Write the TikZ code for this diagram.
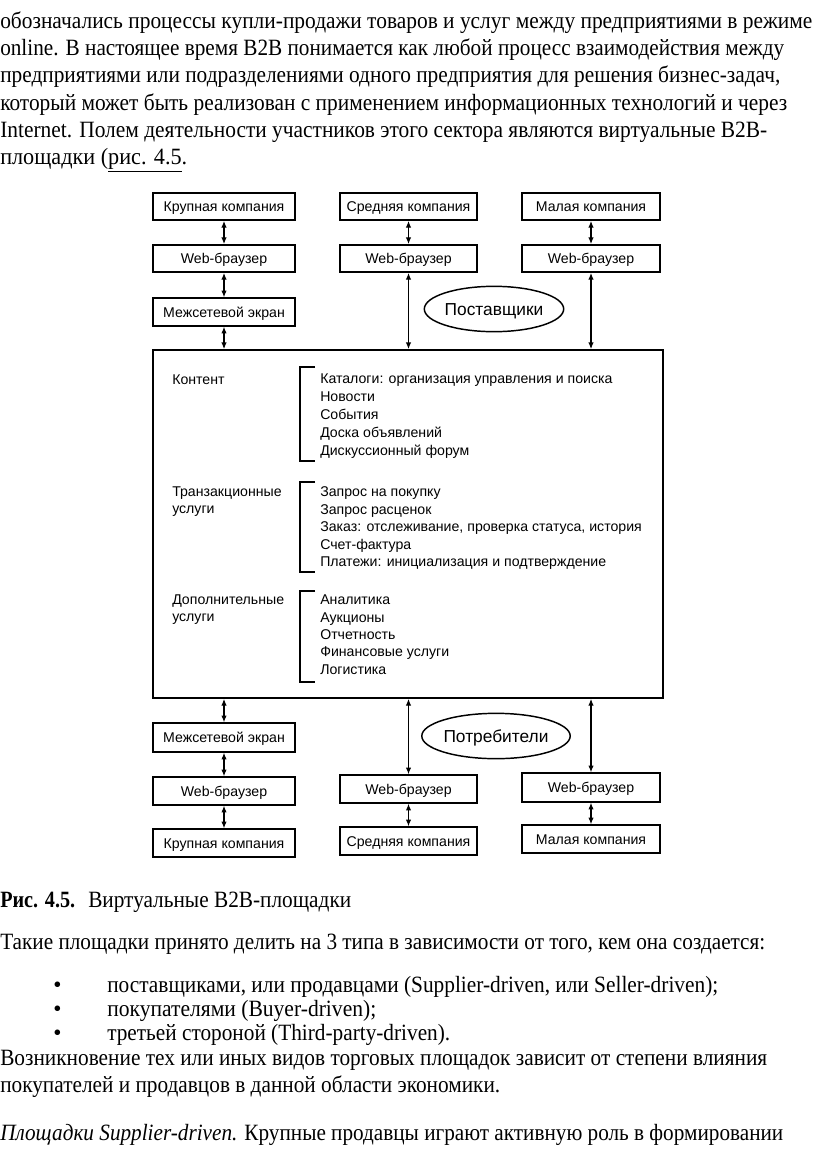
\documentclass[tikz,border=0pt]{standalone}
\usepackage{fontspec}
\setmainfont{Liberation Serif}
\newfontfamily\diagfont{Liberation Sans}
\usetikzlibrary{arrows.meta,shapes.geometric}
\newdimen\pxu \pxu=0.75pt
\newcommand\wline[2]{\resizebox{#1\pxu}{\height}{#2}}
\begin{document}
\begin{tikzpicture}[x=0.75pt,y=-0.75pt,
 box/.style={draw, line width=1.1pt, inner sep=0pt, minimum width=106.5pt, minimum height=20.5pt, text height=7.7pt, text depth=0.2pt, font=\diagfont\fontsize{10.6}{12}\selectfont},
 oval/.style={draw, ellipse, line width=1.1pt, inner sep=0pt, minimum width=96pt, minimum height=34pt, text height=9.4pt, text depth=0.2pt, font=\diagfont\fontsize{13}{15}\selectfont},
 link/.style={line width=0.8pt, {Latex[length=5pt,width=4pt]}-{Latex[length=5pt,width=4pt]}},
 body/.style={anchor=base west, inner sep=0pt, font=\fontsize{17.5}{20}\selectfont},
 dtext/.style={anchor=base west, inner sep=0pt, font=\diagfont\fontsize{10.6}{12}\selectfont},
 brk/.style={line width=1.1pt}
]
\fill[white] (0,0) rectangle (816,1163);
\useasboundingbox (0,0) rectangle (816,1163);

% body text above
\node[body] (p1) at (0,29) {\wline{812}{обозначались процессы купли-продажи товаров и услуг между предприятиями в режиме}};
\node[body] (p2) at (0,56) {\wline{784}{online. В настоящее время B2B понимается как любой процесс взаимодействия между}};
\node[body] (p3) at (0,83) {\wline{780}{предприятиями или подразделениями одного предприятия для решения бизнес-задач,}};
\node[body] (p4) at (0,110) {\wline{787}{который может быть реализован с применением информационных технологий и через}};
\node[body] (p5) at (0,137) {\wline{767}{Internet. Полем деятельности участников этого сектора являются виртуальные B2B-}};
\node[body] (p6) at (0,164) {\wline{187}{площадки (\underline{рис. 4.5}.}};

% top boxes
\node[box] (tk) at (224,206.5) {Крупная компания};
\node[box] (tw) at (224,258.5) {Web-браузер};
\node[box, minimum height=21pt] (tm) at (224,312) {Межсетевой экран};
\node[box, minimum width=102.75pt] (sk) at (408.5,206.5) {Средняя компания};
\node[box, minimum width=102.75pt] (sw) at (408.5,258.5) {Web-браузер};
\node[box, minimum width=103.5pt] (mk) at (591,206.5) {Малая компания};
\node[box, minimum width=103.5pt] (mw) at (591,258.5) {Web-браузер};
\node[oval] (sup) at (494,309) {Поставщики};

% main rectangle
\node[draw, line width=1.3pt, inner sep=0pt, minimum width=382.5pt, minimum height=261pt] (main) at (408,524) {};

% bottom
\node[box, minimum height=21.75pt] (bm) at (224,737.5) {Межсетевой экран};
\node[box, minimum height=21pt] (bw) at (224,791) {Web-браузер};
\node[box, minimum height=21pt] (bk) at (224,843) {Крупная компания};
\node[box, minimum width=102.75pt, minimum height=21pt] (cw) at (408.5,789) {Web-браузер};
\node[box, minimum width=102.75pt, minimum height=21pt] (ck) at (408.5,841) {Средняя компания};
\node[box, minimum width=103.5pt, minimum height=21.75pt] (nw) at (591,787.5) {Web-браузер};
\node[box, minimum width=103.5pt, minimum height=21pt] (nk) at (591,839) {Малая компания};
\node[oval] (con) at (496,736) {Потребители};

% connectors top
\draw[link] (tk.south) -- (tw.north);
\draw[link] (tw.south) -- (tm.north);
\draw[link] (tm.south) -- (tm.south |- main.north);
\draw[link] (sk.south) -- (sw.north);
\draw[link] (sw.south) -- (sw.south |- main.north);
\draw[link] (mk.south) -- (mw.north);
\draw[link] (mw.south) -- (mw.south |- main.north);
% connectors bottom
\draw[link] (bm.north |- main.south) -- (bm.north);
\draw[link] (bm.south) -- (bw.north);
\draw[link] (bw.south) -- (bk.north);
\draw[link] (cw.north |- main.south) -- (cw.north);
\draw[link] (cw.south) -- (ck.north);
\draw[link] (nw.north |- main.south) -- (nw.north);
\draw[link] (nw.south) -- (nk.north);

% inside labels
\node[dtext] (l1) at (172,384) {Контент};
\node[dtext] (l2a) at (172,496) {Транзакционные};
\node[dtext] (l2b) at (172,513) {услуги};
\node[dtext] (l3a) at (172,604) {Дополнительные};
\node[dtext] (l3b) at (172,621) {услуги};

\draw[brk] (315,367) -- (300,367) -- (300,461) -- (315,461);
\draw[brk] (315,482) -- (300,482) -- (300,572) -- (315,572);
\draw[brk] (315,591) -- (300,591) -- (300,682) -- (315,682);

\node[dtext] (a1) at (320,383.5) {Каталоги: организация управления и поиска};
\node[dtext] (a2) at (320,401.5) {Новости};
\node[dtext] (a3) at (320,419) {События};
\node[dtext] (a4) at (320,437) {Доска объявлений};
\node[dtext] (a5) at (320,455) {Дискуссионный форум};
\node[dtext] (b1) at (320,496.5) {Запрос на покупку};
\node[dtext] (b2) at (320,514) {Запрос расценок};
\node[dtext] (b3) at (320,531.5) {Заказ: отслеживание, проверка статуса, история};
\node[dtext] (b4) at (320,549.5) {Счет-фактура};
\node[dtext] (b5) at (320,566.5) {Платежи: инициализация и подтверждение};
\node[dtext] (c1) at (320,604.5) {Аналитика};
\node[dtext] (c2) at (320,622.5) {Аукционы};
\node[dtext] (c3) at (320,639.5) {Отчетность};
\node[dtext] (c4) at (320,656.5) {Финансовые услуги};
\node[dtext] (c5) at (320,674.5) {Логистика};

% text below
\node[body] (cap1) at (0,907) {\wline{75}{\bfseries Рис. 4.5.}};
\node[body] (cap2) at (88,907) {\wline{263}{Виртуальные B2B-площадки}};
\node[body] (q1) at (0,949) {\wline{765}{Такие площадки принято делить на 3 типа в зависимости от того, кем она создается:}};
\node[body] (d1) at (53,992) {•};
\node[body] (d2) at (53,1016) {•};
\node[body] (d3) at (53,1040) {•};
\node[body] (i1) at (107,992) {\wline{611}{поставщиками, или продавцами (Supplier-driven, или Seller-driven);}};
\node[body] (i2) at (107,1016) {\wline{269}{покупателями (Buyer-driven);}};
\node[body] (i3) at (107,1040) {\wline{343}{третьей стороной (Third-party-driven).}};
\node[body] (q2) at (0,1065) {\wline{767}{Возникновение тех или иных видов торговых площадок зависит от степени влияния}};
\node[body] (q3) at (0,1092) {\wline{500}{покупателей и продавцов в данной области экономики.}};
\node[body] (q4) at (0,1140) {\wline{783}{\itshape Площадки Supplier-driven.\upshape{} Крупные продавцы играют активную роль в формировании}};
\end{tikzpicture}
\end{document}
